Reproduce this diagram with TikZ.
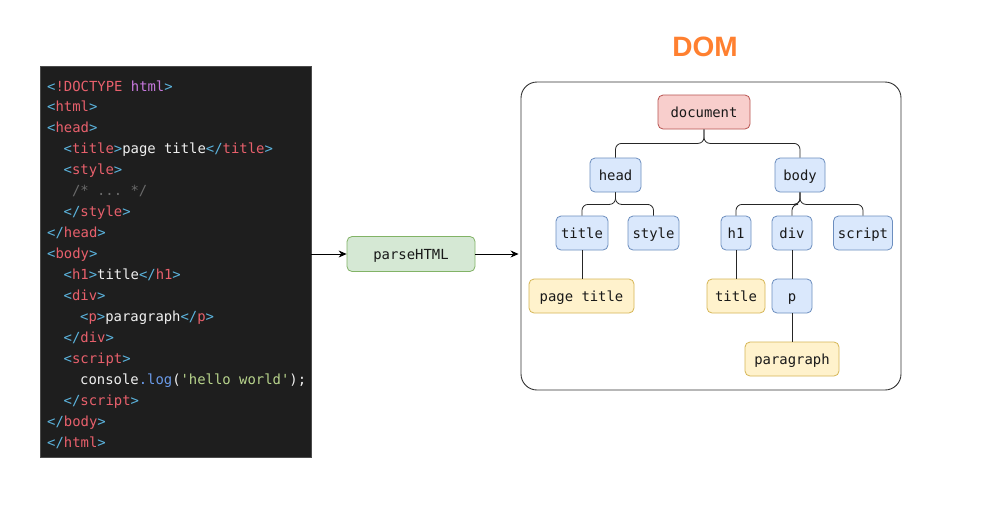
\documentclass[tikz,border=0pt]{standalone}
\usepackage{fontspec}
\setmonofont{DejaVu Sans Mono}
\newfontfamily\domfont{Liberation Sans}
\usetikzlibrary{arrows.meta}
\definecolor{codebgc}{HTML}{1E1E1E}
\definecolor{cbr}{HTML}{5CB4DE}
\definecolor{ctag}{HTML}{E8606C}
\definecolor{cpur}{HTML}{C678DD}
\definecolor{ctxt}{HTML}{F0F0F0}
\definecolor{ccom}{HTML}{6A6A6A}
\definecolor{cfun}{HTML}{6A9AE8}
\definecolor{cstr}{HTML}{B8D48C}
\definecolor{bluef}{HTML}{DAE8FC}
\definecolor{blued}{HTML}{6C8EBF}
\definecolor{yelf}{HTML}{FFF2CC}
\definecolor{yeld}{HTML}{D6B656}
\definecolor{redf}{HTML}{F8CECC}
\definecolor{redd}{HTML}{B85450}
\definecolor{grnf}{HTML}{D5E8D4}
\definecolor{grnd}{HTML}{82B366}
\definecolor{domorange}{HTML}{FF8030}
\definecolor{framec}{HTML}{333333}
\newcommand\hB[1]{\textcolor{cbr}{#1}}
\newcommand\hR[1]{\textcolor{ctag}{#1}}
\newcommand\hP[1]{\textcolor{cpur}{#1}}
\newcommand\hW[1]{\textcolor{ctxt}{#1}}
\newcommand\hG[1]{\textcolor{ccom}{#1}}
\newcommand\hL[1]{\textcolor{cfun}{#1}}
\newcommand\hS[1]{\textcolor{cstr}{#1}}
\begin{document}
\begin{tikzpicture}[x=1pt,y=-1pt,
  codeline/.style={anchor=base west, inner sep=0, font=\ttfamily\fontsize{13.9}{16}\selectfont},
  tnode/.style={draw, rounded corners=5pt, minimum height=34pt, inner sep=0, line width=0.8pt,
    text height=11.5pt, text depth=1.5pt,
    font=\ttfamily\fontsize{13.9}{16}\selectfont, text=black!90},
  bluebox/.style={tnode, fill=bluef, draw=blued},
  yelbox/.style={tnode, fill=yelf, draw=yeld},
  redbox/.style={tnode, fill=redf, draw=redd},
  grnbox/.style={tnode, fill=grnf, draw=grnd},
  tree/.style={draw=black!85, line width=0.8pt, rounded corners=6pt},
  arr/.style={draw=black, line width=0.8pt, -{Stealth[length=8pt,width=7pt]}}
]
\useasboundingbox[fill=white] (0,0) rectangle (983,523);

% code panel
\node[fill=codebgc, draw=codebgc!80!white, minimum width=271pt, minimum height=391pt, inner sep=0] (code) at (175.5,261.5) {};
\node[codeline] (l0) at (47,91) {\hB{<}\hR{!DOCTYPE} \hP{html}\hB{>}};
\node[codeline] (l1) at (47,111.9) {\hB{<}\hR{html}\hB{>}};
\node[codeline] (l2) at (47,132.9) {\hB{<}\hR{head}\hB{>}};
\node[codeline] (l3) at (63.5,153.8) {\hB{<}\hR{title}\hB{>}\hW{page title}\hB{</}\hR{title}\hB{>}};
\node[codeline] (l4) at (63.5,174.8) {\hB{<}\hR{style}\hB{>}};
\node[codeline] (l5) at (71.8,195.7) {\hG{/* ... */}};
\node[codeline] (l6) at (63.5,216.6) {\hB{</}\hR{style}\hB{>}};
\node[codeline] (l7) at (47,237.6) {\hB{</}\hR{head}\hB{>}};
\node[codeline] (l8) at (47,258.5) {\hB{<}\hR{body}\hB{>}};
\node[codeline] (l9) at (63.5,279.5) {\hB{<}\hR{h1}\hB{>}\hW{title}\hB{</}\hR{h1}\hB{>}};
\node[codeline] (l10) at (63.5,300.4) {\hB{<}\hR{div}\hB{>}};
\node[codeline] (l11) at (80,321.3) {\hB{<}\hR{p}\hB{>}\hW{paragraph}\hB{</}\hR{p}\hB{>}};
\node[codeline] (l12) at (63.5,342.3) {\hB{</}\hR{div}\hB{>}};
\node[codeline] (l13) at (63.5,363.2) {\hB{<}\hR{script}\hB{>}};
\node[codeline] (l14) at (80,384.2) {\hW{console}\hL{.log}\hW{(}\hS{'hello world'}\hW{);}};
\node[codeline] (l15) at (63.5,405.1) {\hB{</}\hR{script}\hB{>}};
\node[codeline] (l16) at (47,426.0) {\hB{</}\hR{body}\hB{>}};
\node[codeline] (l17) at (47,447.0) {\hB{</}\hR{html}\hB{>}};

% DOM title and container
\node[font=\domfont\bfseries\fontsize{28}{32}\selectfont, text=domorange, inner sep=0] (domtitle) at (705,47) {DOM};
\node[draw=framec, line width=0.9pt, rounded corners=16pt, minimum width=380pt, minimum height=308pt, inner sep=0] (dom) at (711,236) {};

% parse node
\node[grnbox, minimum width=128pt, minimum height=35pt] (parse) at (411,254) {parseHTML};

% tree nodes
\node[redbox, minimum width=92pt] (doc) at (704,112) {document};
\node[bluebox, minimum width=51pt] (head) at (615.5,175) {head};
\node[bluebox, minimum width=50pt] (body) at (800,175) {body};
\node[bluebox, minimum width=52pt] (title) at (582,233) {title};
\node[bluebox, minimum width=51pt] (style) at (653.5,233) {style};
\node[bluebox, minimum width=30pt] (h1) at (736,233) {h1};
\node[bluebox, minimum width=40pt] (div) at (792,233) {div};
\node[bluebox, minimum width=59pt] (script) at (863,233) {script};
\node[yelbox, minimum width=105pt] (ptitle) at (581.5,296) {page title};
\node[yelbox, minimum width=58pt] (ttl) at (736,296) {title};
\node[bluebox, minimum width=40pt] (p) at (792,296) {p};
\node[yelbox, minimum width=94pt] (para) at (792,359) {paragraph};

% tree connectors
\draw[tree] (doc.south) -- ++(0,14) -| (head.north);
\draw[tree] (doc.south) -- ++(0,14) -| (body.north);
\draw[tree] (head.south) -- ++(0,12) -| (title.north);
\draw[tree] (head.south) -- ++(0,12) -| (style.north);
\draw[tree] (body.south) -- ++(0,12) -| (h1.north);
\draw[tree] (body.south) -- ++(0,12) -| (div.north);
\draw[tree] (body.south) -- ++(0,12) -| (script.north);
\draw[tree] (title.south) -- (title.south |- ptitle.north);
\draw[tree] (h1.south) -- (ttl.north);
\draw[tree] (div.south) -- (p.north);
\draw[tree] (p.south) -- (para.north);

% arrows
\draw[arr] (code.east |- parse.west) -- (parse.west);
\draw[arr, shorten >=2pt] (parse.east) -- (dom.west |- parse.east);
\end{tikzpicture}
\end{document}
